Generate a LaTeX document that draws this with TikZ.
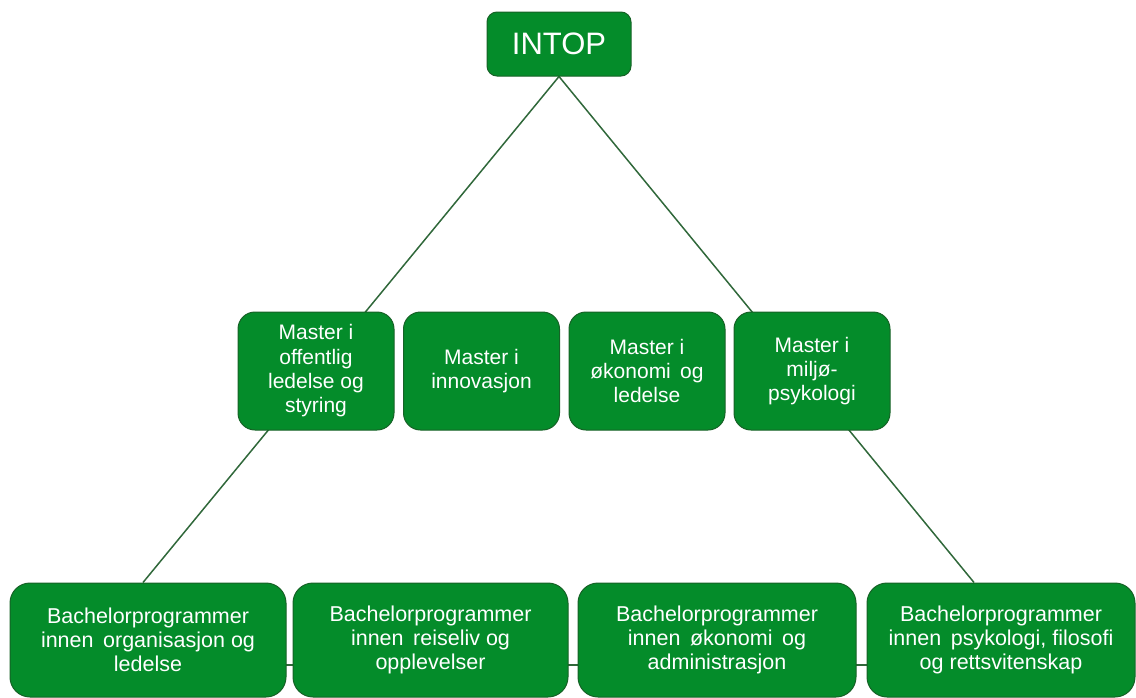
\documentclass[tikz,border=0pt]{standalone}
\usepackage{fontspec}
\setmainfont{Liberation Sans}
\usetikzlibrary{backgrounds}
\definecolor{boxgreen}{RGB}{4,140,42}
\definecolor{edgegreen}{RGB}{22,98,38}
\definecolor{linegreen}{RGB}{48,104,58}
\tikzset{
	progbox/.style={draw=edgegreen, line width=1pt, fill=boxgreen, text=white, align=center, inner sep=0pt},
	topbox/.style={progbox, minimum width=144pt, minimum height=64pt, rounded corners=10pt, font=\fontsize{31}{34}\selectfont},
	masterbox/.style={progbox, minimum width=156pt, minimum height=118pt, rounded corners=17pt, font=\fontsize{21}{24.3}\selectfont},
	bachbox/.style={progbox, minimum height=114pt, rounded corners=20pt, font=\fontsize{21.5}{24.3}\selectfont},
	link/.style={draw=linegreen, line width=1.5pt}
}
\begin{document}
\begin{tikzpicture}[x=1pt,y=-1pt]
	\useasboundingbox (0,0) rectangle (1136,697);
	\node[topbox] (intop) at (559,44){INTOP};
	%%%%%%%%%%%%%%%%%%%%%%%%%%%%%%%%%
	\node[masterbox] (m1) at (316,371){Master i\\offentlig\\ledelse og\\styring};
	\node[masterbox] (m2) at (481.5,371){Master i\\innovasjon};
	\node[masterbox] (m3) at (647,371){Master i\\økonomi\, og\\ledelse};
	\node[masterbox] (m4) at (812,371){Master i\\miljø-\\psykologi};
	%%%%%%%%%%%%%%%%%%%%%%%%%%%%%%%%%
	\node[bachbox, minimum width=276pt] (b1) at (148,640){Bachelorprogrammer\\innen\, organisasjon og\\ledelse};
	\node[bachbox, minimum width=275pt] (b2) at (430.5,640){Bachelorprogrammer\\innen\, reiseliv og\\opplevelser};
	\node[bachbox, minimum width=278pt] (b3) at (717,640){Bachelorprogrammer\\innen\, økonomi\, og\\administrasjon};
	\node[bachbox, minimum width=268pt] (b4) at (1001,640){Bachelorprogrammer\\innen\, psykologi, filosofi\\og rettsvitenskap};
	%%%%%%%%%%%%%%%%%%%%%%%%%%%%%%%%%
	\begin{scope}[on background layer]
		\draw[link] (intop.south) -- ([xshift=-5pt]b1.north);
		\draw[link] (intop.south) -- ([xshift=-27pt]b4.north);
		\draw[link] ([yshift=-25pt]b1.center) -- ([yshift=-25pt]b4.center);
	\end{scope}
\end{tikzpicture}
\end{document}
